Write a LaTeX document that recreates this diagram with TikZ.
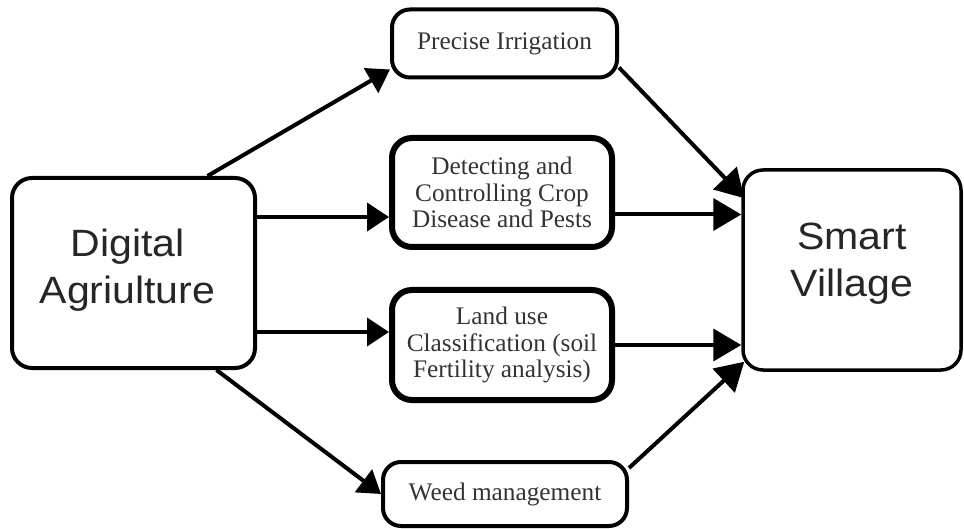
\documentclass[tikz,border=0pt]{standalone}
\usepackage{fontspec}
\setmainfont{Liberation Serif}
\newfontfamily\arialfont[FakeStretch=1.08]{Liberation Sans}
\usetikzlibrary{arrows.meta}
\begin{document}
\begin{tikzpicture}[x=1pt,y=-1pt,
  bigbox/.style={draw, rounded corners=20pt, line width=4pt, align=center,
    font=\arialfont\fontsize{38}{47}\selectfont, text=black!85},
  midbox/.style={draw, rounded corners=18pt, line width=4pt, align=center,
    font=\fontsize{25.3}{26.5}\selectfont, text=black!80, inner sep=0pt},
  thickbox/.style={midbox, line width=6pt, rounded corners=20pt},
  arr/.style={line width=4pt, -{Triangle[length=22pt,width=28pt]}},
  arrb/.style={line width=4pt, -{Triangle[length=28pt,width=32pt]}}]
\useasboundingbox (0,0) rectangle (964,529);

\node[bigbox, minimum width=243pt, minimum height=190pt] (DA) at (133.5,273)
  {Digital\hspace*{12pt}\\Agriulture\hspace*{12pt}\rule[-13pt]{0pt}{0pt}};
\node[bigbox, line width=3.5pt, minimum width=218pt, minimum height=200pt] (SV) at (852,270)
  {Smart\\Village\rule[-20pt]{0pt}{0pt}};

\node[midbox, minimum width=225pt, minimum height=68pt] (PI) at (504.5,43.5) {Precise Irrigation};
\node[thickbox, minimum width=220pt, minimum height=109pt] (DC) at (502,192.5) {Detecting and\\Controlling Crop\\Disease and Pests};
\node[thickbox, minimum width=220pt, minimum height=110pt] (LU) at (502,345) {Land use\\Classification (soil\\Fertility analysis)};
\node[midbox, minimum width=244pt, minimum height=64pt] (WM) at (505,494) {Weed management};

\draw[arr] ([xshift=74pt]DA.north) -- ([yshift=10pt]PI.south west);
\draw[arr] ([yshift=56pt]DA.east) -- ([yshift=56pt]DA.east -| DC.west);
\draw[arr] ([yshift=-59pt]DA.east) -- ([yshift=-59pt]DA.east -| LU.west);
\draw[arr] ([xshift=83pt]DA.south) -- (WM.west);

\draw[arrb] ([yshift=12pt]PI.south east) -- ([yshift=-30pt,xshift=3pt]SV.north west);
\draw[arrb] ([yshift=-22pt]DC.east) -- ([yshift=-22pt]DC.east -| SV.west);
\draw[arrb] (LU.east) -- (LU.east -| SV.west);
\draw[arrb] ([yshift=-8pt]WM.north east) -- ([yshift=10pt,xshift=3pt]SV.south west);
\end{tikzpicture}
\end{document}
